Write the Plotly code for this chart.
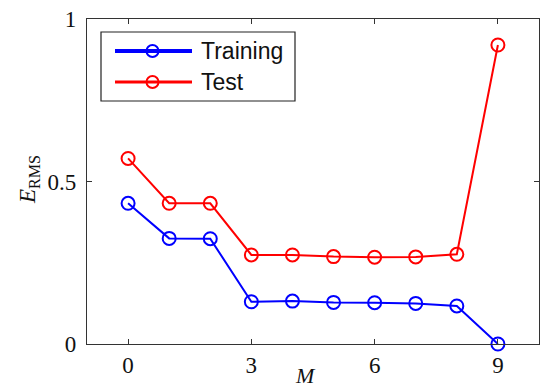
import plotly.graph_objects as go

M = [0, 1, 2, 3, 4, 5, 6, 7, 8, 9]
train_rms = [0.433, 0.325, 0.324, 0.130, 0.132, 0.128, 0.127, 0.125, 0.117, 0.0]
test_rms = [0.571, 0.433, 0.433, 0.274, 0.274, 0.269, 0.267, 0.268, 0.276, 0.920]
x_ticks = [0, 3, 6, 9]
y_ticks = [0, 0.5, 1]
y_ticklabels = ["0", "0.5", "1"]
series_names = ["Training", "Test"]
colors = ["#0000ff", "#ff0000"]

W, H = 555, 392
L, R, T, B = 87, 16, 19, 48
pw, ph = W - L - R, H - T - B

def px2paper_x(px):
    return (px - L) / pw

def px2paper_y(py):
    return (T + ph - py) / ph

fig = go.Figure()
for name, vals, col in [(series_names[0], train_rms, colors[0]), (series_names[1], test_rms, colors[1])]:
    fig.add_trace(go.Scatter(
        x=M, y=vals, name=name, mode="lines+markers",
        line=dict(color=col, width=2),
        marker=dict(symbol="circle-open", size=13, color=col, line=dict(width=2, color=col)),
        cliponaxis=False, showlegend=False,
    ))

axis_common = dict(
    showline=True, linecolor="#333333", linewidth=1.2, mirror="ticks",
    ticks="inside", ticklen=5, tickcolor="#333333", tickwidth=1,
    showgrid=False, zeroline=False, automargin=False,
    tickfont=dict(family="Liberation Serif", size=23, color="#111111"),
)

fig.update_layout(
    width=W, height=H, autosize=False,
    margin=dict(l=L, r=R, t=T, b=B, pad=0),
    plot_bgcolor="white", paper_bgcolor="white",
    xaxis=dict(range=[-1, 10], tickvals=x_ticks, ticklabelstandoff=0, **axis_common),
    yaxis=dict(range=[0, 1], tickvals=y_ticks, ticktext=y_ticklabels, ticklabelstandoff=5, **axis_common),
    showlegend=False,
)

# axis titles
fig.add_annotation(text="<i>M</i>", xref="paper", yref="paper",
                   x=px2paper_x(305), y=px2paper_y(375), showarrow=False,
                   font=dict(family="Liberation Serif", size=22, color="#111111"),
                   xanchor="center", yanchor="middle")
fig.add_annotation(text="<i>E</i><sub>RMS</sub>", xref="paper", yref="paper",
                   x=px2paper_x(29), y=px2paper_y(180), showarrow=False, textangle=-90,
                   font=dict(family="Liberation Serif", size=23, color="#111111"),
                   xanchor="center", yanchor="middle")

# manual legend
fig.add_shape(type="rect", xref="paper", yref="paper",
              x0=px2paper_x(101), x1=px2paper_x(295), y0=px2paper_y(101), y1=px2paper_y(32),
              line=dict(color="#222222", width=1.2), fillcolor="white", layer="below")
leg_y = [51, 82]
leg_lw = [4, 3]
for name, col, py, lw in zip(series_names, colors, leg_y, leg_lw):
    yp = px2paper_y(py)
    fig.add_shape(type="line", xref="paper", yref="paper",
                  x0=px2paper_x(115), x1=px2paper_x(192), y0=yp, y1=yp,
                  line=dict(color=col, width=lw))
    fig.add_shape(type="circle", xref="paper", yref="paper",
                  xsizemode="pixel", ysizemode="pixel",
                  xanchor=px2paper_x(152.5), yanchor=yp,
                  x0=-6, x1=6, y0=-6, y1=6,
                  line=dict(color=col, width=2))
    fig.add_annotation(text=name, xref="paper", yref="paper",
                       x=px2paper_x(199), y=yp, showarrow=False,
                       xanchor="left", yanchor="middle",
                       font=dict(family="Liberation Sans", size=23, color="#111111"))

fig.write_html(
    "out.html",
    config={"responsive": False, "displayModeBar": False},
    post_script="document.body.style.margin='0';"
                "document.body.style.overflow='hidden';"
                "document.documentElement.style.overflow='hidden';",
)
